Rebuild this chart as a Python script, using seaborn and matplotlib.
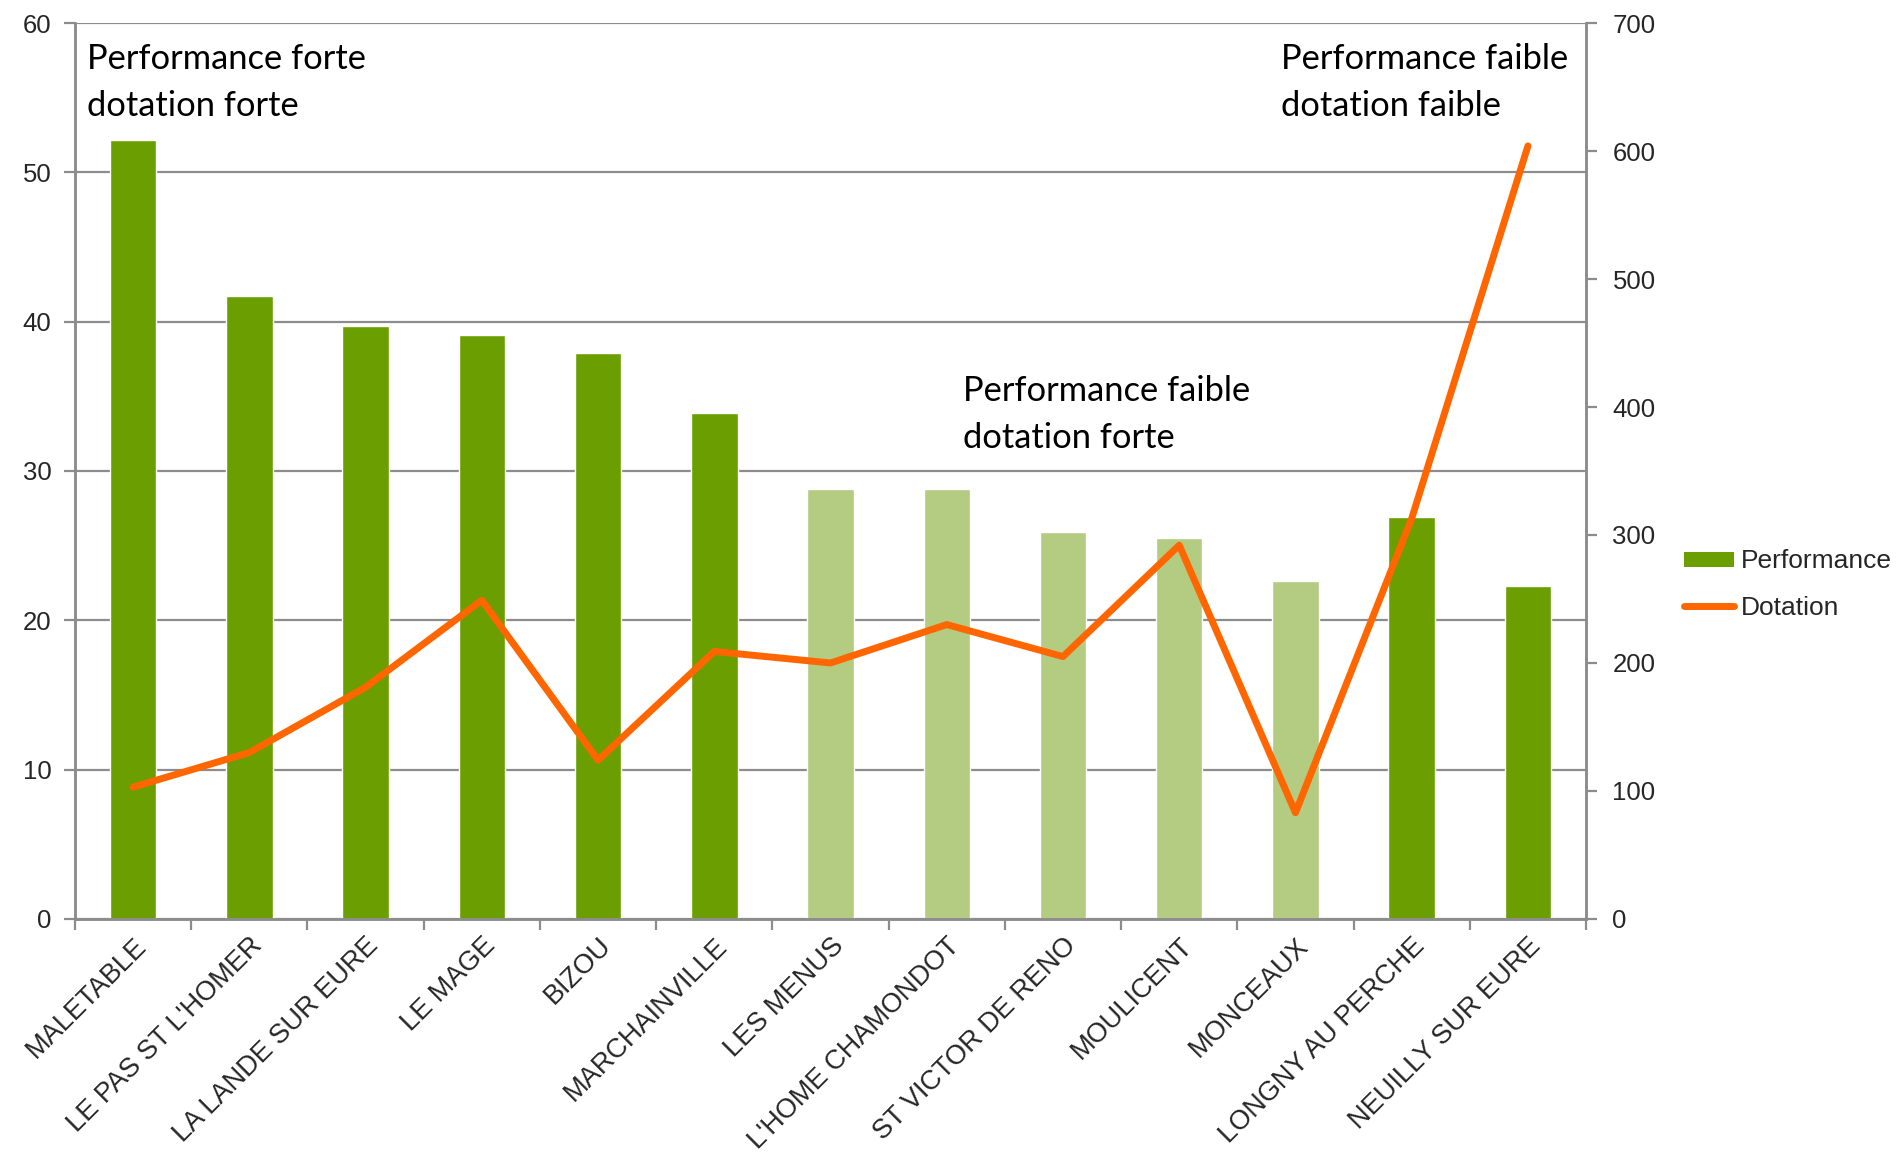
import numpy as np
import pandas as pd
import matplotlib
matplotlib.use("Agg")
import matplotlib.pyplot as plt
import seaborn as sns
from matplotlib.patches import Patch
from matplotlib.lines import Line2D

# data
communes = ["MALETABLE", "LE PAS ST L'HOMER", "LA LANDE SUR EURE", "LE MAGE", "BIZOU",
            "MARCHAINVILLE", "LES MENUS", "L'HOME CHAMONDOT", "ST VICTOR DE RENO",
            "MOULICENT", "MONCEAUX", "LONGNY AU PERCHE", "NEUILLY SUR EURE"]
performance = [52.2, 41.7, 39.7, 39.1, 37.9, 33.9, 28.8, 28.8, 25.9, 25.5, 22.6, 26.9, 22.3]
dotation = [103, 130, 181, 249, 124, 209, 200, 230, 205, 292, 83, 313, 604]
groupe = ["forte", "forte", "forte", "forte", "forte", "forte", "faible", "faible",
          "faible", "faible", "faible", "forte", "forte"]

dark_green = "#6B9E00"
light_green = "#B3CC82"
orange = "#FF6600"
grey = "#8C8C8C"

df = pd.DataFrame({"commune": communes, "performance": performance,
                   "dotation": dotation, "groupe": groupe})
df["pos"] = np.arange(len(df))
bar_colors = {c: (dark_green if g == "forte" else light_green) for c, g in zip(communes, groupe)}

sns.set_style("white")
plt.rcParams["font.family"] = ["Liberation Sans", "DejaVu Sans"]

fig = plt.figure(figsize=(18.97, 11.52), dpi=100)
ax = fig.add_axes([0.0395, 0.2023, 0.7966, 0.7777])

ax.yaxis.grid(True, color=grey, linewidth=1.6)
ax.set_axisbelow(True)
sns.barplot(data=df, x="commune", y="performance", hue="commune", palette=bar_colors,
            legend=False, width=0.4, saturation=1, ax=ax)
ax.set_ylim(0, 60)
ax.set_yticks(range(0, 61, 10))
ax.set_xlim(-0.5, len(df) - 0.5)
ax.set_xlabel("")
ax.set_ylabel("")

ax2 = ax.twinx()
sns.lineplot(data=df, x="pos", y="dotation", color=orange, linewidth=5,
             sort=False, ax=ax2)
for l in ax2.lines:
    l.set_solid_capstyle("round")
    l.set_solid_joinstyle("round")
ax2.set_ylim(0, 700)
ax2.set_yticks(range(0, 701, 100))
ax2.set_xlim(-0.5, len(df) - 0.5)
ax2.set_xlabel("")
ax2.set_ylabel("")

for a in (ax, ax2):
    for s in a.spines.values():
        s.set_color(grey)
        s.set_linewidth(1.8)
    a.spines["top"].set_visible(False)

ax.tick_params(axis="y", direction="out", length=8, width=1.6, color=grey,
               labelsize=18.5, pad=9, left=True)
ax2.tick_params(axis="y", direction="out", length=8, width=1.6, color=grey,
                labelsize=18.5, pad=11, right=True)

ax.set_xticks(np.arange(len(df)))
ax.set_xticks(np.arange(-0.5, len(df), 1), minor=True)
ax.tick_params(axis="x", which="major", length=0, pad=10)
ax.tick_params(axis="x", which="minor", direction="out", length=8, width=1.6,
               color=grey, bottom=True)
ax.set_xticklabels(communes, rotation=45, ha="right", rotation_mode="anchor",
                   fontsize=19.5)

# quadrant annotations
note_font = dict(fontsize=24.8, family=["Lato", "DejaVu Sans"], color="black",
                 linespacing=1.55, va="center", ha="left")
ax.text(0.008, 0.9335, "Performance forte\ndotation forte", transform=ax.transAxes, **note_font)
ax.text(0.798, 0.9335, "Performance faible\ndotation faible", transform=ax.transAxes, **note_font)
ax.text(0.588, 0.563, "Performance faible\ndotation forte", transform=ax.transAxes, **note_font)

handles = [Patch(facecolor=dark_green, edgecolor="none"),
           Line2D([0], [0], color=orange, linewidth=5, solid_capstyle="round")]
fig.legend(handles, ["Performance", "Dotation"], loc="center left",
           bbox_to_anchor=(0.8877, 0.4925), frameon=False, fontsize=19,
           handlelength=1.9, handleheight=0.5, handletextpad=0.27,
           labelspacing=0.85, borderpad=0, borderaxespad=0)

fig.savefig("out.png", dpi=100)
